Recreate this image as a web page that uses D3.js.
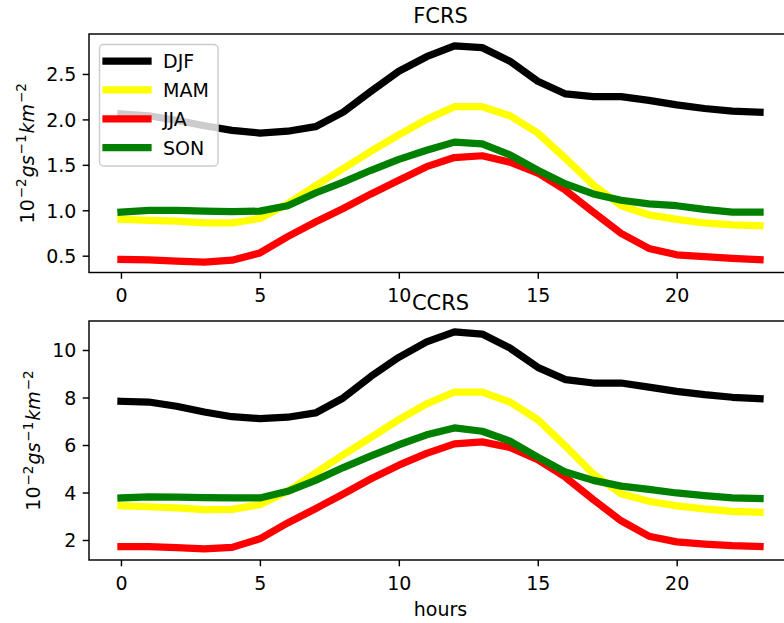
<!DOCTYPE html>
<html><head><meta charset="utf-8">
<script src="https://cdn.jsdelivr.net/npm/d3@7"></script>
<style>
html,body{margin:0;padding:0;background:#fff;}
svg{display:block;font-family:"DejaVu Sans",sans-serif;}
</style></head>
<body>
<svg id="chart" width="784" height="623"></svg>
<script>
const hours = d3.range(24);
const seasons = ["DJF","MAM","JJA","SON"];
const seasonColors = ["#000000","#ffff00","#ff0000","#008000"];

const fcrsDJF = [2.06,2.04,1.99,1.93,1.88,1.85,1.87,1.92,2.08,2.31,2.53,2.69,2.81,2.79,2.64,2.42,2.28,2.25,2.25,2.21,2.16,2.12,2.09,2.08];
const fcrsMAM = [0.90,0.89,0.88,0.86,0.86,0.91,1.07,1.27,1.46,1.65,1.83,2.00,2.14,2.14,2.04,1.85,1.57,1.28,1.05,0.95,0.90,0.86,0.84,0.83];
const fcrsJJA = [0.46,0.455,0.44,0.43,0.45,0.53,0.71,0.87,1.02,1.18,1.33,1.48,1.58,1.60,1.53,1.41,1.22,0.98,0.745,0.58,0.51,0.49,0.47,0.455];
const fcrsSON = [0.98,1.00,1.00,0.99,0.985,0.99,1.05,1.19,1.31,1.44,1.56,1.66,1.75,1.73,1.61,1.44,1.29,1.18,1.11,1.07,1.05,1.01,0.98,0.98];

const ccrsDJF = [7.84,7.81,7.63,7.39,7.19,7.11,7.17,7.35,7.98,8.89,9.69,10.34,10.76,10.67,10.08,9.27,8.75,8.61,8.61,8.44,8.26,8.12,8.01,7.95];
const ccrsMAM = [3.44,3.40,3.35,3.28,3.29,3.49,4.05,4.82,5.59,6.32,7.07,7.73,8.23,8.23,7.81,7.07,5.95,4.78,3.95,3.63,3.44,3.31,3.21,3.17];
const ccrsJJA = [1.72,1.72,1.68,1.63,1.69,2.05,2.72,3.32,3.94,4.58,5.15,5.65,6.05,6.13,5.90,5.38,4.64,3.70,2.81,2.16,1.92,1.83,1.76,1.73];
const ccrsSON = [3.77,3.82,3.81,3.78,3.77,3.77,4.05,4.51,5.05,5.54,6.01,6.43,6.72,6.58,6.16,5.49,4.86,4.51,4.27,4.13,3.98,3.87,3.77,3.75];

const xTicks = [0,5,10,15,20];
const fcrsTicks = [0.5,1.0,1.5,2.0,2.5];
const ccrsTicks = [2,4,6,8,10];

const svg = d3.select("#chart");
const FS = 19;
const SUP = 13.5;
const left = 89, right = 792;

const panels = [
  {title:"FCRS", top:34, bottom:272.5, ydom:[0.315,2.94], ticks:fcrsTicks, fmt:d3.format(".1f"),
   series:[fcrsDJF,fcrsMAM,fcrsJJA,fcrsSON], legend:true, ylabX:33.5, titleY:23, xlabel:false},
  {title:"CCRS", top:321, bottom:560, ydom:[1.158,11.221], ticks:ccrsTicks, fmt:d3.format("d"),
   series:[ccrsDJF,ccrsMAM,ccrsJJA,ccrsSON], legend:false, ylabX:40, titleY:310, xlabel:true}
];

const x = d3.scaleLinear().domain([-1.15,24.15]).range([left,right]);

panels.forEach((p,pi)=>{
  const y = d3.scaleLinear().domain(p.ydom).range([p.bottom,p.top]);
  const g = svg.append("g");
  const clipId = "clip"+pi;
  svg.append("clipPath").attr("id",clipId).append("rect")
    .attr("x",left).attr("y",p.top).attr("width",right-left).attr("height",p.bottom-p.top);

  const line = d3.line().x((d,i)=>x(hours[i])).y(d=>y(d));
  const lg = g.append("g").attr("clip-path",`url(#${clipId})`);
  p.series.forEach((s,i)=>{
    lg.append("path").datum(s).attr("d",line)
      .attr("fill","none").attr("stroke",seasonColors[i])
      .attr("stroke-width",7.25).attr("stroke-linecap","square").attr("stroke-linejoin","round");
  });

  const xAxis = d3.axisBottom(x).tickValues(xTicks).tickSize(6.3).tickPadding(6.3).tickFormat(d3.format("d"));
  const xg = g.append("g").attr("transform",`translate(0,${p.bottom})`).call(xAxis);
  const yAxis = d3.axisLeft(y).tickValues(p.ticks).tickSize(6.3).tickPadding(6.3).tickFormat(p.fmt);
  const yg = g.append("g").attr("transform",`translate(${left},0)`).call(yAxis);
  [xg,yg].forEach(a=>{
    a.select(".domain").remove();
    a.selectAll(".tick line").attr("stroke","#000").attr("stroke-width",1.45);
    a.selectAll(".tick text").attr("fill","#000").style("font-size",FS+"px").style("font-family","DejaVu Sans");
  });
  xg.selectAll(".tick text").attr("dy",null).attr("y",29.5);
  yg.selectAll(".tick text").attr("dy","0.36em");

  g.append("rect").attr("x",left).attr("y",p.top).attr("width",right-left).attr("height",p.bottom-p.top)
    .attr("fill","none").attr("stroke","#000").attr("stroke-width",1.45);

  g.append("text").attr("x",(left+right)/2).attr("y",p.titleY).attr("text-anchor","middle")
    .style("font-size","21px").text(p.title);

  const yl = g.append("text")
    .attr("transform",`translate(${p.ylabX},${(p.top+p.bottom)/2}) rotate(-90)`)
    .attr("text-anchor","middle").style("font-size",FS+"px");
  yl.append("tspan").text("10");
  yl.append("tspan").attr("dy",-7.5).attr("dx",1).style("font-size",SUP+"px").text("\u22122");
  yl.append("tspan").attr("dy",7.5).attr("dx",1).style("font-style","italic").text("gs");
  yl.append("tspan").attr("dy",-7.5).attr("dx",1).style("font-size",SUP+"px").text("\u22121");
  yl.append("tspan").attr("dy",7.5).attr("dx",1).style("font-style","italic").text("km");
  yl.append("tspan").attr("dy",-7.5).attr("dx",1).style("font-size",SUP+"px").text("\u22122");

  if(p.xlabel){
    g.append("text").attr("x",(left+right)/2).attr("y",616).attr("text-anchor","middle")
      .style("font-size",FS+"px").text("hours");
  }

  if(p.legend){
    const lgd = g.append("g");
    lgd.append("rect").attr("x",99.5).attr("y",44.5).attr("width",118.5).attr("height",121.5)
      .attr("rx",4).attr("ry",4).attr("fill","#fff").attr("fill-opacity",0.8)
      .attr("stroke","#cccccc").attr("stroke-width",1.45);
    seasons.forEach((s,i)=>{
      const yy = 61 + i*28.9;
      lgd.append("line").attr("x1",106).attr("x2",148).attr("y1",yy).attr("y2",yy)
        .attr("stroke",seasonColors[i]).attr("stroke-width",7.25).attr("stroke-linecap","square");
      lgd.append("text").attr("x",163).attr("y",yy).attr("dy","0.36em")
        .style("font-size",FS+"px").text(s);
    });
  }
});
</script>
</body></html>
